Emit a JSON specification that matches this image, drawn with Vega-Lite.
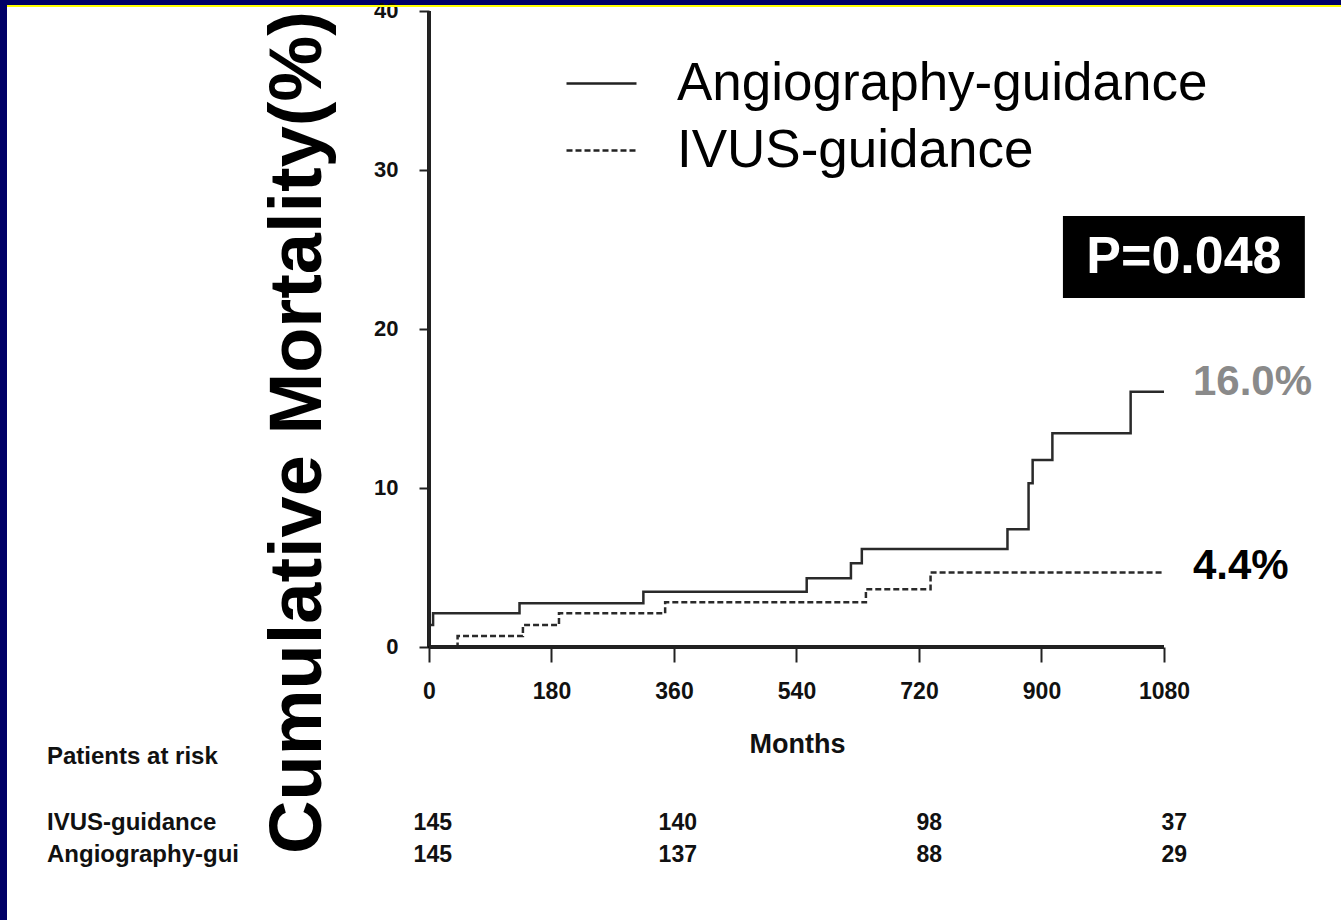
{
  "$schema": "https://vega.github.io/schema/vega-lite/v6.json",
  "width": 1334,
  "height": 914,
  "autosize": "none",
  "padding": {"left": 7, "top": 6, "right": 0, "bottom": 0},
  "background": "#000066",
  "config": {"view": {"fill": "white", "stroke": null}},
  "datasets": {
    "km": [
      {"group": "Angiography-guidance", "month": 0, "pct": 0},
      {"group": "Angiography-guidance", "month": 1, "pct": 1.38},
      {"group": "Angiography-guidance", "month": 6, "pct": 2.12},
      {"group": "Angiography-guidance", "month": 133, "pct": 2.75},
      {"group": "Angiography-guidance", "month": 315, "pct": 3.48},
      {"group": "Angiography-guidance", "month": 555, "pct": 4.32},
      {"group": "Angiography-guidance", "month": 620, "pct": 5.26},
      {"group": "Angiography-guidance", "month": 636, "pct": 6.16},
      {"group": "Angiography-guidance", "month": 850, "pct": 7.4},
      {"group": "Angiography-guidance", "month": 881, "pct": 10.3},
      {"group": "Angiography-guidance", "month": 887, "pct": 11.76},
      {"group": "Angiography-guidance", "month": 916, "pct": 13.44},
      {"group": "Angiography-guidance", "month": 1031, "pct": 16.06},
      {"group": "Angiography-guidance", "month": 1080, "pct": 16.06},
      {"group": "IVUS-guidance", "month": 0, "pct": 0},
      {"group": "IVUS-guidance", "month": 42, "pct": 0.69},
      {"group": "IVUS-guidance", "month": 138, "pct": 1.38},
      {"group": "IVUS-guidance", "month": 191, "pct": 2.12},
      {"group": "IVUS-guidance", "month": 347, "pct": 2.81},
      {"group": "IVUS-guidance", "month": 642, "pct": 3.63},
      {"group": "IVUS-guidance", "month": 737, "pct": 4.68},
      {"group": "IVUS-guidance", "month": 1080, "pct": 4.68}
    ],
    "endlabels": [
      {"group": "Angiography-guidance", "month": 1080, "pct": 16.0, "label": "16.0%"},
      {"group": "IVUS-guidance", "month": 1080, "pct": 4.4, "label": "4.4%"}
    ],
    "risk": [
      {"group": "IVUS-guidance", "month": 0, "n": 145},
      {"group": "IVUS-guidance", "month": 360, "n": 140},
      {"group": "IVUS-guidance", "month": 720, "n": 98},
      {"group": "IVUS-guidance", "month": 1080, "n": 37},
      {"group": "Angiography-guidance", "month": 0, "n": 145},
      {"group": "Angiography-guidance", "month": 360, "n": 137},
      {"group": "Angiography-guidance", "month": 720, "n": 88},
      {"group": "Angiography-guidance", "month": 1080, "n": 29}
    ]
  },
  "layer": [
    {
      "data": {"name": "km"},
      "mark": {"type": "rule", "color": "#ffff00", "strokeWidth": 2},
      "encoding": {
        "x": {"datum": -620.08, "type": "quantitative", "scale": {"domain": [-620.08, 1340.1], "nice": false, "zero": false}},
        "x2": {"datum": 1340.1},
        "y": {"datum": 40.314, "type": "quantitative", "scale": {"domain": [-17.17, 40.314], "nice": false, "zero": false}}
      }
    },
    {
      "data": {"name": "km"},
      "mark": {"type": "line", "interpolate": "step-after", "strokeWidth": 2.5, "color": "#2a2a2a"},
      "encoding": {
        "x": {
          "field": "month", "type": "quantitative",
          "scale": {"domain": [-620.08, 1340.1], "nice": false, "zero": false},
          "axis": {
            "values": [0, 180, 360, 540, 720, 900, 1080],
            "format": "d",
            "domain": false, "grid": false, "ticks": true,
            "tickSize": 15, "tickWidth": 2, "tickColor": "#222222",
            "labelFont": "Liberation Sans", "labelFontSize": 23, "labelFontWeight": "bold",
            "labelColor": "#111111", "labelPadding": 18, "labelFlush": false, "labelOverlap": false,
            "offset": -273,
            "title": "Months",
            "titleFont": "Liberation Sans", "titleFontSize": 27, "titleFontWeight": "bold",
            "titleColor": "#111111", "titleX": 790, "titleY": 84, "titleAlign": "center", "titleBaseline": "top"
          }
        },
        "y": {
          "field": "pct", "type": "quantitative",
          "scale": {"domain": [-17.17, 40.314], "nice": false, "zero": false},
          "axis": {
            "values": [0, 10, 20, 30, 40],
            "domain": false, "grid": false, "ticks": true,
            "tickSize": 10, "tickWidth": 2, "tickColor": "#222222",
            "labelFont": "Liberation Sans", "labelFontSize": 22, "labelFontWeight": "bold",
            "labelColor": "#111111", "labelPadding": 21, "labelFlush": false, "labelOverlap": false,
            "offset": -422,
            "title": "Cumulative Mortality(%)",
            "titleFont": "Liberation Sans", "titleFontSize": 74, "titleFontWeight": "bold",
            "titleColor": "#000000", "titleAngle": -90, "titleX": -109, "titleY": 426,
            "titleAlign": "center", "titleBaseline": "alphabetic"
          }
        },
        "strokeDash": {
          "field": "group", "type": "nominal",
          "scale": {"domain": ["Angiography-guidance", "IVUS-guidance"], "range": [[1, 0], [6, 3]]},
          "legend": {
            "orient": "none", "legendX": 558, "legendY": 41, "title": null,
            "symbolType": "stroke", "symbolSize": 4900, "symbolStrokeWidth": 2.5,
            "symbolStrokeColor": "#222222",
            "labelFont": "Liberation Sans", "labelFontSize": 53, "labelColor": "#000000",
            "labelOffset": 39, "labelLimit": 900, "rowPadding": 3, "padding": 0
          }
        }
      }
    },
    {
      "data": {"name": "km"},
      "mark": {"type": "rule", "strokeWidth": 2.5, "color": "#222222"},
      "encoding": {
        "x": {"datum": 0, "type": "quantitative", "scale": {"domain": [-620.08, 1340.1], "nice": false, "zero": false}},
        "y": {"datum": 0, "type": "quantitative", "scale": {"domain": [-17.17, 40.314], "nice": false, "zero": false}},
        "y2": {"datum": 40}
      }
    },
    {
      "data": {"name": "km"},
      "mark": {"type": "rule", "strokeWidth": 2.5, "color": "#222222"},
      "encoding": {
        "x": {"datum": 0, "type": "quantitative", "scale": {"domain": [-620.08, 1340.1], "nice": false, "zero": false}},
        "x2": {"datum": 1080},
        "y": {"datum": 0, "type": "quantitative", "scale": {"domain": [-17.17, 40.314], "nice": false, "zero": false}}
      }
    },
    {
      "data": {"name": "endlabels"},
      "mark": {"type": "text", "font": "Liberation Sans", "fontWeight": "bold", "fontSize": 42, "align": "left", "baseline": "alphabetic", "dx": 29, "dy": 2},
      "encoding": {
        "x": {"field": "month", "type": "quantitative", "scale": {"domain": [-620.08, 1340.1], "nice": false, "zero": false}},
        "y": {"field": "pct", "type": "quantitative", "scale": {"domain": [-17.17, 40.314], "nice": false, "zero": false}},
        "text": {"field": "label"},
        "color": {"field": "group", "type": "nominal", "scale": {"domain": ["Angiography-guidance", "IVUS-guidance"], "range": ["#8a8a8a", "#000000"]}, "legend": null}
      }
    },
    {
      "data": {"values": [{"p": "P=0.048"}]},
      "mark": {"type": "rect", "color": "#000000"},
      "encoding": {
        "x": {"datum": 931.5, "type": "quantitative", "scale": {"domain": [-620.08, 1340.1], "nice": false, "zero": false}},
        "x2": {"datum": 1287},
        "y": {"datum": 21.95, "type": "quantitative", "scale": {"domain": [-17.17, 40.314], "nice": false, "zero": false}},
        "y2": {"datum": 27.1}
      }
    },
    {
      "data": {"values": [{"p": "P=0.048"}]},
      "mark": {"type": "text", "color": "#ffffff", "font": "Liberation Sans", "fontWeight": "bold", "fontSize": 52, "align": "center", "baseline": "middle"},
      "encoding": {
        "x": {"datum": 1109.3, "type": "quantitative", "scale": {"domain": [-620.08, 1340.1], "nice": false, "zero": false}},
        "y": {"datum": 24.5, "type": "quantitative", "scale": {"domain": [-17.17, 40.314], "nice": false, "zero": false}},
        "text": {"field": "p"}
      }
    },
    {
      "data": {"name": "risk"},
      "transform": [{"filter": "datum.group === 'IVUS-guidance'"}],
      "mark": {"type": "text", "font": "Liberation Sans", "fontWeight": "bold", "fontSize": 23, "align": "right", "baseline": "middle", "dx": 23, "color": "#111111"},
      "encoding": {
        "x": {"field": "month", "type": "quantitative", "scale": {"domain": [-620.08, 1340.1], "nice": false, "zero": false}},
        "y": {"datum": -11.07, "type": "quantitative", "scale": {"domain": [-17.17, 40.314], "nice": false, "zero": false}},
        "text": {"field": "n"}
      }
    },
    {
      "data": {"name": "risk"},
      "transform": [{"filter": "datum.group === 'Angiography-guidance'"}],
      "mark": {"type": "text", "font": "Liberation Sans", "fontWeight": "bold", "fontSize": 23, "align": "right", "baseline": "middle", "dx": 23, "color": "#111111"},
      "encoding": {
        "x": {"field": "month", "type": "quantitative", "scale": {"domain": [-620.08, 1340.1], "nice": false, "zero": false}},
        "y": {"datum": -13.08, "type": "quantitative", "scale": {"domain": [-17.17, 40.314], "nice": false, "zero": false}},
        "text": {"field": "n"}
      }
    },
    {
      "data": {"values": [{"t": "Patients at risk"}]},
      "mark": {"type": "text", "font": "Liberation Sans", "fontWeight": "bold", "fontSize": 24, "align": "left", "baseline": "middle", "color": "#111111"},
      "encoding": {
        "x": {"datum": -561.3, "type": "quantitative", "scale": {"domain": [-620.08, 1340.1], "nice": false, "zero": false}},
        "y": {"datum": -6.92, "type": "quantitative", "scale": {"domain": [-17.17, 40.314], "nice": false, "zero": false}},
        "text": {"field": "t"}
      }
    },
    {
      "data": {"values": [{"t": "IVUS-guidance"}]},
      "mark": {"type": "text", "font": "Liberation Sans", "fontWeight": "bold", "fontSize": 24, "align": "left", "baseline": "middle", "color": "#111111"},
      "encoding": {
        "x": {"datum": -561.3, "type": "quantitative", "scale": {"domain": [-620.08, 1340.1], "nice": false, "zero": false}},
        "y": {"datum": -11.07, "type": "quantitative", "scale": {"domain": [-17.17, 40.314], "nice": false, "zero": false}},
        "text": {"field": "t"}
      }
    },
    {
      "data": {"values": [{"t": "Angiography-gui"}]},
      "mark": {"type": "text", "font": "Liberation Sans", "fontWeight": "bold", "fontSize": 24, "align": "left", "baseline": "middle", "color": "#111111"},
      "encoding": {
        "x": {"datum": -561.3, "type": "quantitative", "scale": {"domain": [-620.08, 1340.1], "nice": false, "zero": false}},
        "y": {"datum": -13.08, "type": "quantitative", "scale": {"domain": [-17.17, 40.314], "nice": false, "zero": false}},
        "text": {"field": "t"}
      }
    }
  ]
}
